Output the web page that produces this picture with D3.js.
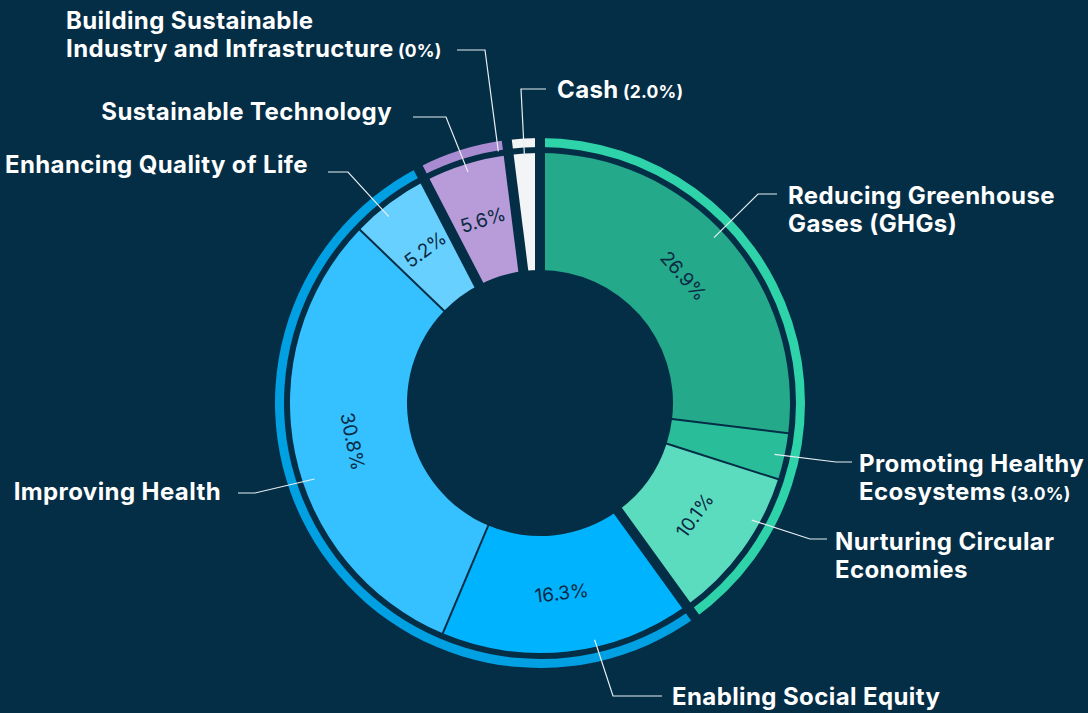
<!DOCTYPE html>
<html>
<head>
<meta charset="utf-8">
<script src="https://cdn.jsdelivr.net/npm/d3@7"></script>
<style>
  html, body { margin: 0; padding: 0; background: #032e46; }
  svg { display: block; }
  .label { font-family: Inter, "Liberation Sans", sans-serif; font-weight: 700; fill: #ffffff; letter-spacing: 0.4px; }
  .label .small { font-size: 17.5px; letter-spacing: 0.2px; }
  .pct { font-family: Inter, "Liberation Sans", sans-serif; font-weight: 400; fill: #0b2a44; }
</style>
</head>
<body>
<svg id="chart"></svg>
<script>
var width = 1088, height = 713;
var bg = "#032e46";

// slices, clockwise from 12 o'clock
var names = [
  "Reducing Greenhouse Gases (GHGs)",
  "Promoting Healthy Ecosystems",
  "Nurturing Circular Economies",
  "Enabling Social Equity",
  "Improving Health",
  "Enhancing Quality of Life",
  "Sustainable Technology",
  "Building Sustainable Industry and Infrastructure",
  "Cash"
];
var values = [26.9, 3.0, 10.1, 16.3, 30.8, 5.2, 5.6, 0, 2.0];
var groups = ["env", "env", "env", "social", "social", "social", "tech", "industry", "cash"];
var labelLines = [
  ["Reducing Greenhouse", "Gases (GHGs)"],
  ["Promoting Healthy", "Ecosystems"],
  ["Nurturing Circular", "Economies"],
  ["Enabling Social Equity"],
  ["Improving Health"],
  ["Enhancing Quality of Life"],
  ["Sustainable Technology"],
  ["Building Sustainable", "Industry and Infrastructure"],
  ["Cash"]
];

var sliceColors = ["#24a98a", "#2abd99", "#5cdcbf", "#00b3fe", "#35c1ff", "#67d0ff", "#b89bd9", "#a98bd1", "#f3f4f6"];
var groupColors = { env: "#2ed3aa", social: "#00a0e3", tech: "#a98bd1", industry: "#a98bd1", cash: "#f3f4f6" };

// label placement (x, first baseline, anchor) and leader line (text side y, start x, elbow x, angle nudge, end radius)
var labelLayout = [
  { x: 788, y: 204, anchor: "start", ly: 194, lx0: 777, lx1: 758, da: -2, r: 240 },
  { x: 859, y: 472, anchor: "start", ly: 462, lx0: 852, lx1: 836, da: 0, r: 240 },
  { x: 835, y: 550, anchor: "start", ly: 539, lx0: 827, lx1: 810, da: -7, r: 242 },
  { x: 672, y: 705, anchor: "start", ly: 696, lx0: 662, lx1: 613, da: -6.5, r: 243 },
  { x: 221, y: 500, anchor: "end", ly: 493, lx0: 238, lx1: 255, da: -7, r: 238 },
  { x: 308, y: 173, anchor: "end", ly: 172, lx0: 328, lx1: 348, da: -2.3, r: 240 },
  { x: 392, y: 120, anchor: "end", ly: 117, lx0: 413, lx1: 446, da: 0, r: 242 },
  { x: 66, y: 29, anchor: "start", ly: 50, lx0: 457, lx1: 485, da: -2.2, r: 255 },
  { x: 557, y: 98, anchor: "start", ly: 89, lx0: 546, lx1: 521, da: 0, r: 247 }
];

var cx = 540, cy = 403;
var innerR = 133, outerR = 250, ringInner = 256, ringOuter = 265;
var groupGap = 10, sliceGap = 2;

var data = names.map(function(n, i) {
  return { name: n, value: values[i], group: groups[i], lines: labelLines[i], layout: labelLayout[i], color: sliceColors[i] };
});

var svg = d3.select("#chart")
  .attr("width", width)
  .attr("height", height);

svg.append("rect")
  .attr("width", width)
  .attr("height", height)
  .attr("fill", bg);

var g = svg.append("g")
  .attr("transform", `translate(${cx},${cy})`);

var pie = d3.pie()
  .sort(null)
  .value(d => d.value);

var arcs = pie(data);

var arc = d3.arc()
  .innerRadius(innerR)
  .outerRadius(outerR);

var ringArc = d3.arc()
  .innerRadius(ringInner)
  .outerRadius(ringOuter);

// inner slices
g.append("g")
  .attr("class", "slices")
  .selectAll("path")
  .data(arcs.filter(d => d.data.value > 0))
  .enter()
  .append("path")
  .attr("d", arc)
  .attr("fill", d => d.data.color);

// outer ring per group
var groupArcs = d3.groups(arcs, d => d.data.group).map(function(gr) {
  var list = gr[1];
  return {
    group: gr[0],
    startAngle: d3.min(list, d => d.startAngle),
    endAngle: d3.max(list, d => d.endAngle)
  };
}).filter(d => d.endAngle > d.startAngle);

g.append("g")
  .attr("class", "ring")
  .selectAll("path")
  .data(groupArcs)
  .enter()
  .append("path")
  .attr("d", ringArc)
  .attr("fill", d => groupColors[d.group]);

function polar(a, r) {
  return [Math.sin(a) * r, -Math.cos(a) * r];
}

// thin separators inside a group
var inside = arcs.filter((d, i) => i > 0 && d.data.group === arcs[i - 1].data.group);
g.append("g")
  .selectAll("line")
  .data(inside)
  .enter()
  .append("line")
  .attr("x1", d => polar(d.startAngle, innerR - 2)[0])
  .attr("y1", d => polar(d.startAngle, innerR - 2)[1])
  .attr("x2", d => polar(d.startAngle, outerR + 2)[0])
  .attr("y2", d => polar(d.startAngle, outerR + 2)[1])
  .attr("stroke", bg)
  .attr("stroke-width", sliceGap);

// wide gaps between groups
var boundaries = groupArcs.map(d => d.startAngle);
g.append("g")
  .selectAll("line")
  .data(boundaries)
  .enter()
  .append("line")
  .attr("x1", 0)
  .attr("y1", 0)
  .attr("x2", d => polar(d, ringOuter + 6)[0])
  .attr("y2", d => polar(d, ringOuter + 6)[1])
  .attr("stroke", bg)
  .attr("stroke-width", groupGap);

// percentage labels on the bigger slices
var midR = (innerR + outerR) / 2;
g.append("g")
  .selectAll("text")
  .data(arcs.filter(d => d.data.value >= 5))
  .enter()
  .append("text")
  .attr("class", "pct")
  .attr("transform", function(d) {
    var a = (d.startAngle + d.endAngle) / 2;
    var p = polar(a, midR);
    var deg = a * 180 / Math.PI;
    var rot = (deg > 90 && deg < 270) ? deg - 180 : deg;
    return `translate(${p[0]},${p[1]}) rotate(${rot})`;
  })
  .attr("text-anchor", "middle")
  .attr("dominant-baseline", "central")
  .style("font-size", "19px")
  .text(d => d.data.value.toFixed(1) + "%");

// leader lines
svg.append("g")
  .selectAll("path")
  .data(arcs)
  .enter()
  .append("path")
  .attr("d", function(d) {
    var L = d.data.layout;
    var a = (d.startAngle + d.endAngle) / 2 + L.da * Math.PI / 180;
    var p = polar(a, L.r);
    return `M${L.lx0},${L.ly}H${L.lx1}L${cx + p[0]},${cy + p[1]}`;
  })
  .attr("fill", "none")
  .attr("stroke", "#e8eef1")
  .attr("stroke-width", 1.2);

// category labels
var labels = svg.append("g")
  .selectAll("text")
  .data(data)
  .enter()
  .append("text")
  .attr("class", "label")
  .attr("x", d => d.layout.x)
  .attr("y", d => d.layout.y)
  .attr("text-anchor", d => d.layout.anchor)
  .style("font-size", "24px");

labels.each(function(d) {
  var t = d3.select(this);
  d.lines.forEach(function(line, i) {
    t.append("tspan")
      .attr("x", d.layout.x)
      .attr("dy", i === 0 ? 0 : 28)
      .text(line);
    if (i === d.lines.length - 1 && d.value < 5) {
      t.append("tspan")
        .attr("class", "small")
        .text(" (" + (d.value === 0 ? "0" : d.value.toFixed(1)) + "%)");
    }
  });
});
</script>
</body>
</html>
